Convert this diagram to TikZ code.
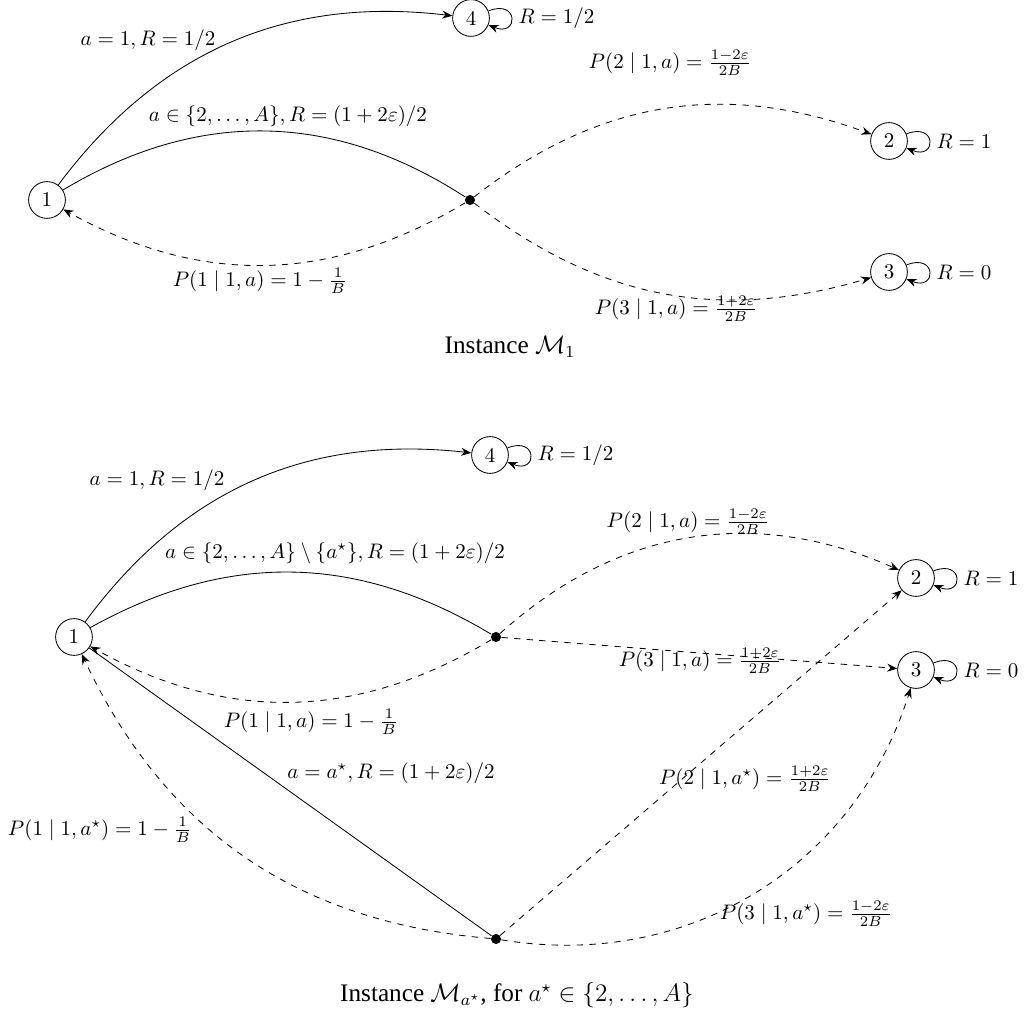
\documentclass[tikz,border=0pt]{standalone}
\usepackage{fontspec}
\newfontfamily\capfont{Liberation Serif}
\usetikzlibrary{arrows.meta}

\begin{document}
\begin{tikzpicture}[x=0.476pt,y=0.476pt,
  state/.style={draw,circle,inner sep=0pt,minimum size=17.5pt},
  chance/.style={circle,fill,inner sep=0pt,minimum size=4.8pt},
  trans/.style={-{Stealth[length=4.8pt,width=3.8pt]}},
  prob/.style={trans,dashed},
  selfloop/.style={trans,out=22,in=-22,distance=5.5mm},
  lbl/.style={inner sep=1pt},
  caption/.style={font=\capfont\fontsize{12}{14}\selectfont}]
\useasboundingbox (0,0) rectangle (1029,-1020);

% ---------------- first instance ----------------
\node[state]  (a1) at (47,-200) {1};
\node[state]  (a4) at (471,-18)  {4};
\node[state]  (a2) at (889,-141) {2};
\node[state]  (a3) at (889,-272) {3};
\node[chance] (ad) at (470,-200) {};

\draw[selfloop] (a4) to node[right,name=ra4] {$R = 1/2$} (a4);
\draw[selfloop] (a2) to node[right,name=ra2] {$R = 1$} (a2);
\draw[selfloop] (a3) to node[right,name=ra3] {$R = 0$} (a3);

\draw[trans] (a1) to[bend left=30] (a4);
\draw (a1) to[bend left=32] (ad);
\draw[prob] (ad) to[bend left=30] (a1);
\draw[prob] (ad) to[bend left=29] (a2);
\draw[prob] (ad) to[bend right=27] (a3);

\node[lbl] (la14) at (148,-40)  {$a = 1, R = 1/2$};
\node[lbl] (la1d) at (288,-116) {$a \in \{2,\dots,A\}, R = (1+2\varepsilon)/2$};
\node[lbl] (lad1) at (260,-281) {$P(1 \mid 1,a) = 1 - \frac{1}{B}$};
\node[lbl] (lad2) at (670,-63)  {$P(2 \mid 1,a) = \frac{1-2\varepsilon}{2B}$};
\node[lbl] (lad3) at (676,-309) {$P(3 \mid 1,a) = \frac{1+2\varepsilon}{2B}$};

\node[caption] (capa) at (510,-347) {Instance $\mathcal{M}_1$};

% ---------------- second instance ----------------
\node[state]  (b1)  at (74,-637)  {1};
\node[state]  (b4)  at (490,-455) {4};
\node[state]  (b2)  at (916,-578) {2};
\node[state]  (b3)  at (916,-670) {3};
\node[chance] (bd1) at (496,-637) {};
\node[chance] (bd2) at (496,-939) {};

\draw[selfloop] (b4) to node[right,name=rb4] {$R = 1/2$} (b4);
\draw[selfloop] (b2) to node[right,name=rb2] {$R = 1$} (b2);
\draw[selfloop] (b3) to node[right,name=rb3] {$R = 0$} (b3);

\draw[trans] (b1) to[bend left=30] (b4);
\draw (b1) to[bend left=30] (bd1);
\draw[prob] (bd1) to[bend left=30] (b1);
\draw[prob] (bd1) to[bend left=33] (b2);
\draw[prob] (bd1) -- (b3);

\draw (b1) -- (bd2);
\draw[prob] (bd2) to[bend left=30] (b1);
\draw[prob] (bd2) -- (b2);
\draw[prob] (bd2) to[bend right=41] (b3);

\node[lbl] (lb14)  at (157,-480) {$a = 1, R = 1/2$};
\node[lbl] (lb1d1) at (335,-553) {$a \in \{2,\dots,A\} \setminus \{a^\star\}, R = (1+2\varepsilon)/2$};
\node[lbl] (lbd12) at (688,-522) {$P(2 \mid 1,a) = \frac{1-2\varepsilon}{2B}$};
\node[lbl] (lbd13) at (700,-661) {$P(3 \mid 1,a) = \frac{1+2\varepsilon}{2B}$};
\node[lbl] (lbd11) at (311,-722) {$P(1 \mid 1,a) = 1 - \frac{1}{B}$};
\node[lbl] (lb1d2) at (391,-773) {$a = a^\star, R = (1+2\varepsilon)/2$};
\node[lbl] (lbd21) at (100,-830) {$P(1 \mid 1,a^\star) = 1 - \frac{1}{B}$};
\node[lbl] (lbd22) at (745,-779) {$P(2 \mid 1,a^\star) = \frac{1+2\varepsilon}{2B}$};
\node[lbl] (lbd23) at (806,-914) {$P(3 \mid 1,a^\star) = \frac{1-2\varepsilon}{2B}$};

\node[caption] (capb) at (517,-995) {Instance $\mathcal{M}_{a^\star}$, for $a^\star \in \{2,\dots,A\}$};
\end{tikzpicture}
\end{document}
